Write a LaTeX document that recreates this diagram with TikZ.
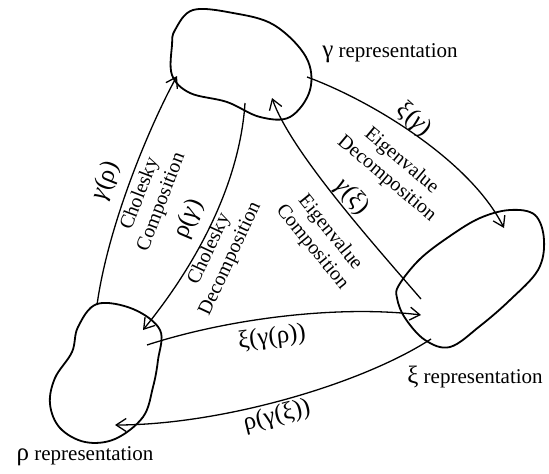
\documentclass[tikz,border=0pt]{standalone}
\usepackage{fontspec}
\setmainfont{Liberation Serif}
\usetikzlibrary{arrows.meta}
\newcommand{\gk}[1]{{\fontsize{25}{25}\selectfont #1}}
\begin{document}
\begin{tikzpicture}[x=1pt,y=-1pt,
  blob/.style={line width=1.8pt,line join=round},
  conn/.style={line width=1.3pt,-{Straight Barb[length=10pt,width=13pt,line width=1.3pt]}},
  lbl/.style={font=\fontsize{21}{22}\selectfont,inner sep=0pt,align=center},
  elbl/.style={font=\fontsize{20}{23}\selectfont,inner sep=0pt,align=center},
  flbl/.style={font=\fontsize{25}{25}\selectfont,inner sep=0pt,align=center}]
\useasboundingbox (0,0) rectangle (549,474);
% blobs
\draw[blob] plot[smooth cycle,tension=0.6] coordinates {(175,30) (193,10) (233,13) (274,25) (306,57) (310,90) (290,117) (260,117) (227,102) (190,93) (172,75) (172,45)};
\draw[blob] plot[smooth cycle,tension=0.6] coordinates {(97,304) (133,309) (160,330) (158,360) (153,387) (143,417) (115,439) (85,442) (60,428) (50,404) (55,378) (72,352) (78,327)};
\draw[blob] plot[smooth cycle,tension=0.6] coordinates {(399,285) (420,259) (450,236) (480,218) (510,210) (535,215) (544,240) (538,270) (510,300) (480,326) (450,347) (425,340) (405,318) (397,298)};
% endpoints
\coordinate (grS) at (97,305);   \coordinate (grE) at (177,76);
\coordinate (rgS) at (245,103);  \coordinate (rgE) at (143,330);
\coordinate (xgS) at (307,77);   \coordinate (xgE) at (504,228);
\coordinate (gxS) at (421,299);  \coordinate (gxE) at (272,98);
\coordinate (xrS) at (147,345);  \coordinate (xrE) at (421,315);
\coordinate (rxS) at (431,339);  \coordinate (rxE) at (115,425);
% connectors
\draw[conn] (grS) .. controls (108,225) and (150,125) .. (grE);
\draw[conn] (rgS) .. controls (240,180) and (200,260) .. (rgE);
\draw[conn] (xgS) .. controls (370,100) and (470,160) .. (xgE);
\draw[conn] (gxS) .. controls (370,240) and (290,150) .. (gxE);
\draw[conn] (xrS) .. controls (230,318) and (340,305) .. (xrE);
\draw[conn] (rxS) .. controls (360,385) and (220,425) .. (rxE);
% representation labels
\node[lbl] (gam) at (390,53) {\gk{γ} representation};
\node[lbl] (xi) at (475,377) {\gk{ξ} representation};
\node[lbl] (rho) at (85,456) {\gk{ρ} representation};
% edge labels
\node[flbl,rotate=68] (l1) at (106,181) {\textit{γ}(ρ)};
\node[elbl,rotate=69] (l2) at (151,198) {Cholesky\\Composition};
\node[flbl,rotate=67] (l3) at (189,219) {ρ(\textit{γ})};
\node[elbl,rotate=65] (l4) at (220,254) {Cholesky\\Decomposition};
\node[flbl,rotate=-42] (l5) at (414,120) {ξ(\textit{γ})};
\node[elbl,rotate=-40] (l6) at (394,170) {Eigenvalue\\Decomposition};
\node[flbl,rotate=-48] (l7) at (352,197) {\textit{γ}(ξ)};
\node[elbl,rotate=-51] (l8) at (321,240) {Eigenvalue\\Composition};
\node[flbl,rotate=7] (l9) at (272,338) {ξ(γ(ρ))};
\node[flbl,rotate=14] (l10) at (277,416) {ρ(γ(ξ))};
\end{tikzpicture}
\end{document}
